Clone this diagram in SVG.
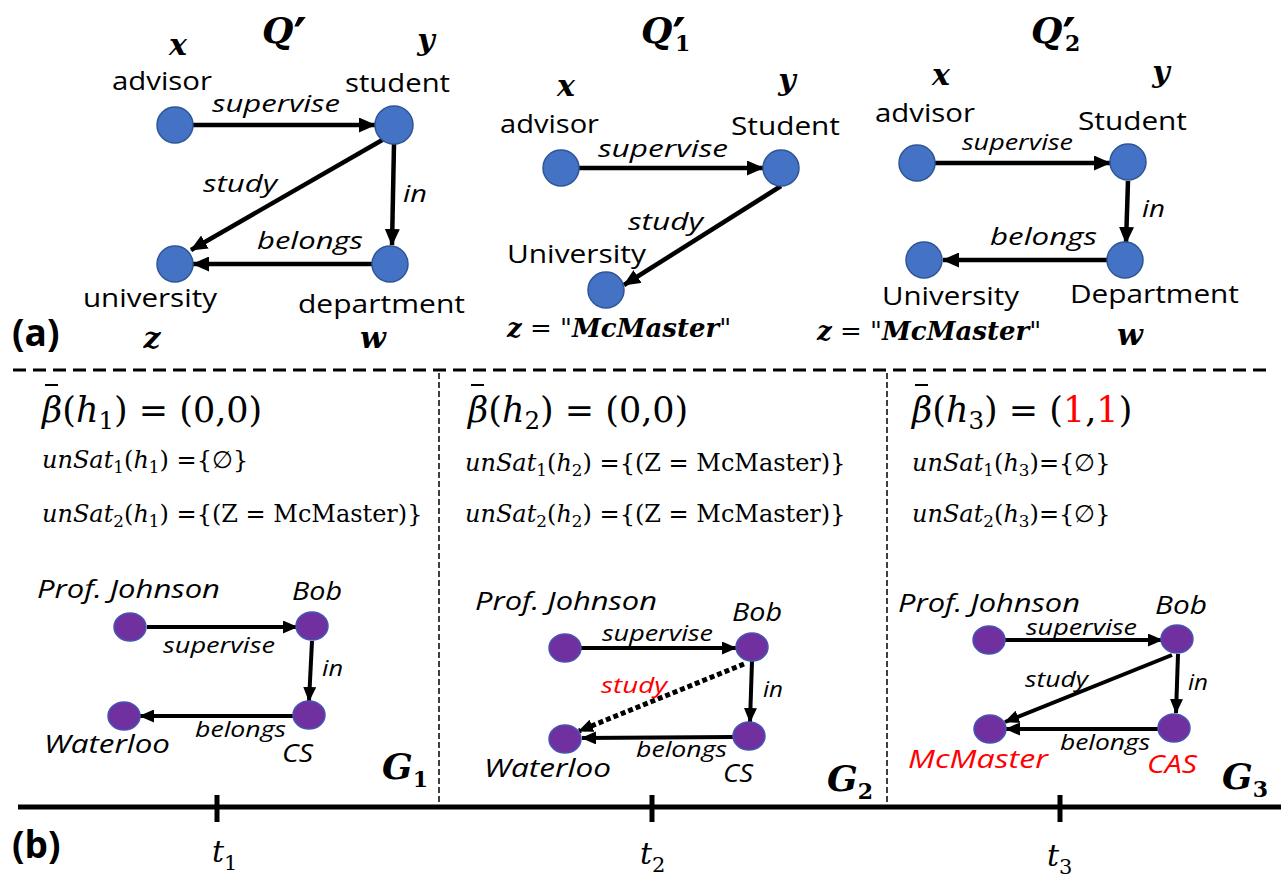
<svg xmlns="http://www.w3.org/2000/svg" width="1286" height="886" viewBox="0 0 1286 886">
<defs>
<marker id="ah" markerUnits="userSpaceOnUse" markerWidth="17" markerHeight="15" refX="16" refY="7.5" orient="auto">
<path d="M0,0 L17,7.5 L0,15 z" fill="#000"/>
</marker>
<marker id="ahs" markerUnits="userSpaceOnUse" markerWidth="15" markerHeight="13" refX="14" refY="6.5" orient="auto">
<path d="M0,0 L15,6.5 L0,13 z" fill="#000"/>
</marker>
</defs>
<style>
.bg{fill:#fff}
.na{fill:#4472C4;stroke:#2F5597;stroke-width:1.5}
.nb{fill:#7030A0;stroke:#4655B0;stroke-width:1.5}
.ea{stroke:#000;stroke-width:4.5;fill:none;marker-end:url(#ah)}
.eb{stroke:#000;stroke-width:4;fill:none;marker-end:url(#ahs)}
.dot{stroke:#000;stroke-width:5;fill:none;stroke-dasharray:5 3;marker-end:url(#ahs)}
.lbl{font-family:"Open Sans","DejaVu Sans",sans-serif;font-size:26px;fill:#000}
.el{font-family:"Open Sans","DejaVu Sans",sans-serif;font-size:24px;font-style:italic;fill:#000}
.es{font-family:"Open Sans","DejaVu Sans",sans-serif;font-size:22px;font-style:italic;fill:#000}
.gl{font-family:"Open Sans","DejaVu Sans",sans-serif;font-size:26px;font-style:italic;fill:#000}
.red{fill:#FF0000}
.var{font-family:"DejaVu Serif","Liberation Serif",serif;font-weight:bold;font-style:italic;font-size:30px;fill:#000}
.qt{font-family:"DejaVu Serif","Liberation Serif",serif;font-weight:bold;font-style:italic;font-size:36px;fill:#000}
.pr{font-family:"DejaVu Sans","Liberation Sans",sans-serif;font-style:normal;font-weight:bold;font-size:52px}
.qs{font-family:"DejaVu Serif","Liberation Serif",serif;font-style:normal;font-weight:bold;font-size:22px}
.zeq{font-family:"DejaVu Serif","Liberation Serif",serif;font-size:26px;fill:#000}
.bi{font-weight:bold;font-style:italic}
.beta{font-family:"DejaVu Serif","Liberation Serif",serif;font-size:35px;fill:#000}
.bar{stroke:#000;stroke-width:2;fill:none}
.uns{font-family:"DejaVu Serif","Liberation Serif",serif;font-size:24px;fill:#000}
.it{font-style:italic}
.sub{font-size:70%}
.pl{font-family:"Open Sans","DejaVu Sans",sans-serif;font-weight:bold;font-size:37px;fill:#000}
.tl{font-family:"DejaVu Serif","Liberation Serif",serif;font-size:30px;fill:#000}
.sep{stroke:#000;stroke-width:3;stroke-dasharray:13 7;fill:none}
.vd{stroke:#000;stroke-width:1.5;stroke-dasharray:6 3;fill:none}
.axis{stroke:#000;stroke-width:5;fill:none}
</style>
<rect class="bg" x="0" y="0" width="1286" height="886"/>

<!-- separators and timeline -->
<g id="frame">
<path class="sep" d="M13,370 L1272,370"/>
<path class="vd" d="M439,373 L439,805"/>
<path class="vd" d="M887,373 L887,805"/>
<path class="axis" d="M18,807 L1281,807"/>
<path class="axis" d="M217,795 L217,822 M652,795 L652,822 M1060,795 L1060,822"/>
<text class="pl" x="12" y="346">(a)</text>
<text class="pl" x="12" y="858">(b)</text>
<text class="tl" x="212" y="862"><tspan class="it">t</tspan><tspan class="sub" dy="8">1</tspan></text>
<text class="tl" x="640" y="864"><tspan class="it">t</tspan><tspan class="sub" dy="8">2</tspan></text>
<text class="tl" x="1047" y="866"><tspan class="it">t</tspan><tspan class="sub" dy="8">3</tspan></text>
</g>

<!-- connectors -->
<g id="connectors">
<path class="ea" d="M193,125 L375,125"/>
<path class="ea" d="M384,139 L191,250"/>
<path class="ea" d="M394,144 L392,245"/>
<path class="ea" d="M372,264 L193,264"/>

<path class="ea" d="M579,168 L763,168"/>
<path class="ea" d="M781,186 L624,285"/>

<path class="ea" d="M935,163 L1110,163"/>
<path class="ea" d="M1128,181 L1126,243"/>
<path class="ea" d="M1107,260 L943,260"/>

<path class="eb" d="M147,627 L297,627"/>
<path class="eb" d="M312,641 L309,701"/>
<path class="eb" d="M293,716 L140,716"/>

<path class="eb" d="M581,648 L736,648"/>
<path class="eb" d="M752,661 L750,722"/>
<path class="eb" d="M733,737 L582,738"/>
<path class="dot" d="M744,664 L579,731"/>

<path class="eb" d="M1005,640 L1162,640"/>
<path class="eb" d="M1172,655 L1005,722"/>
<path class="eb" d="M1178,654 L1176,713"/>
<path class="eb" d="M1158,729 L1006,729"/>
</g>

<!-- Q' -->
<g id="q-title">
<text class="qt" x="262" y="43">Q<tspan class="pr" dy="12">′</tspan></text>
</g>
<g id="q-x"><circle class="na" cx="175" cy="125" r="18"/><text class="var" x="178" y="55" text-anchor="middle">x</text><text class="lbl" x="112" y="90" textLength="100" lengthAdjust="spacingAndGlyphs">advisor</text></g>
<g id="q-y"><circle class="na" cx="394" cy="125" r="19"/><text class="var" x="426" y="50" text-anchor="middle">y</text><text class="lbl" x="345" y="92" textLength="105" lengthAdjust="spacingAndGlyphs">student</text></g>
<g id="q-z"><circle class="na" cx="175" cy="264" r="18"/><text class="lbl" x="83" y="307" textLength="134" lengthAdjust="spacingAndGlyphs">university</text><text class="var" x="152" y="348" text-anchor="middle">z</text></g>
<g id="q-w"><circle class="na" cx="390" cy="264" r="18"/><text class="lbl" x="298" y="313" textLength="167" lengthAdjust="spacingAndGlyphs">department</text><text class="var" x="373" y="348" text-anchor="middle">w</text></g>
<g id="q-labels">
<text class="el" x="212" y="112" textLength="128" lengthAdjust="spacingAndGlyphs">supervise</text>
<text class="el" x="203" y="192" textLength="74" lengthAdjust="spacingAndGlyphs">study</text>
<text class="el" x="403" y="202" textLength="24" lengthAdjust="spacingAndGlyphs">in</text>
<text class="el" x="257" y="249" textLength="106" lengthAdjust="spacingAndGlyphs">belongs</text>
</g>

<!-- Q'1 -->
<g id="q1-title">
<text class="qt" x="641" y="43">Q<tspan class="pr" dy="12">′</tspan><tspan class="qs" x="675" y="51">1</tspan></text>
</g>
<g id="q1-x"><circle class="na" cx="561" cy="168" r="18"/><text class="var" x="566" y="96" text-anchor="middle">x</text><text class="lbl" x="500" y="133" textLength="99" lengthAdjust="spacingAndGlyphs">advisor</text></g>
<g id="q1-y"><circle class="na" cx="781" cy="168" r="18"/><text class="var" x="787" y="90" text-anchor="middle">y</text><text class="lbl" x="731" y="135" textLength="109" lengthAdjust="spacingAndGlyphs">Student</text></g>
<g id="q1-z"><circle class="na" cx="606" cy="290" r="18"/><text class="lbl" x="507" y="263" textLength="139" lengthAdjust="spacingAndGlyphs">University</text>
<text class="zeq" x="507" y="337"><tspan class="bi">z</tspan> = "<tspan class="bi">McMaster</tspan>"</text></g>
<g id="q1-labels">
<text class="el" x="598" y="157" textLength="130" lengthAdjust="spacingAndGlyphs">supervise</text>
<text class="el" x="628" y="230" textLength="75" lengthAdjust="spacingAndGlyphs">study</text>
</g>

<!-- Q'2 -->
<g id="q2-title">
<text class="qt" x="1031" y="43">Q<tspan class="pr" dy="12">′</tspan><tspan class="qs" x="1065" y="51">2</tspan></text>
</g>
<g id="q2-x"><circle class="na" cx="917" cy="163" r="18"/><text class="var" x="941" y="85" text-anchor="middle">x</text><text class="lbl" x="875" y="122" textLength="100" lengthAdjust="spacingAndGlyphs">advisor</text></g>
<g id="q2-y"><circle class="na" cx="1128" cy="162" r="18"/><text class="var" x="1161" y="82" text-anchor="middle">y</text><text class="lbl" x="1078" y="130" textLength="109" lengthAdjust="spacingAndGlyphs">Student</text></g>
<g id="q2-w"><circle class="na" cx="1125" cy="260" r="18"/><text class="lbl" x="1070" y="303" textLength="169" lengthAdjust="spacingAndGlyphs">Department</text><text class="var" x="1130" y="345" text-anchor="middle">w</text></g>
<g id="q2-z"><circle class="na" cx="924" cy="260" r="18"/><text class="lbl" x="882" y="305" textLength="137" lengthAdjust="spacingAndGlyphs">University</text>
<text class="zeq" x="817" y="340"><tspan class="bi">z</tspan> = "<tspan class="bi">McMaster</tspan>"</text></g>
<g id="q2-labels">
<text class="es" x="962" y="150" textLength="111" lengthAdjust="spacingAndGlyphs">supervise</text>
<text class="el" x="1142" y="217" textLength="23" lengthAdjust="spacingAndGlyphs">in</text>
<text class="el" x="990" y="245" textLength="107" lengthAdjust="spacingAndGlyphs">belongs</text>
</g>

<!-- column texts -->
<g id="h1-text">
<path class="bar" d="M45,385 L58,385"/>
<text class="beta" x="42" y="422"><tspan class="it">β</tspan>(<tspan class="it">h</tspan><tspan class="sub" dy="7">1</tspan><tspan dy="-7">) = (0,0)</tspan></text>
<text class="uns" x="42" y="468"><tspan class="it">unSat</tspan><tspan class="sub" dy="5">1</tspan><tspan dy="-5">(</tspan><tspan class="it">h</tspan><tspan class="sub" dy="5">1</tspan><tspan dy="-5">) ={∅}</tspan></text>
<text class="uns" x="42" y="522"><tspan class="it">unSat</tspan><tspan class="sub" dy="5">2</tspan><tspan dy="-5">(</tspan><tspan class="it">h</tspan><tspan class="sub" dy="5">1</tspan><tspan dy="-5">) ={(Z = McMaster)}</tspan></text>
</g>
<g id="h2-text">
<path class="bar" d="M471,385 L484,385"/>
<text class="beta" x="468" y="422"><tspan class="it">β</tspan>(<tspan class="it">h</tspan><tspan class="sub" dy="7">2</tspan><tspan dy="-7">) = (0,0)</tspan></text>
<text class="uns" x="465" y="471"><tspan class="it">unSat</tspan><tspan class="sub" dy="5">1</tspan><tspan dy="-5">(</tspan><tspan class="it">h</tspan><tspan class="sub" dy="5">2</tspan><tspan dy="-5">) ={(Z = McMaster)}</tspan></text>
<text class="uns" x="465" y="522"><tspan class="it">unSat</tspan><tspan class="sub" dy="5">2</tspan><tspan dy="-5">(</tspan><tspan class="it">h</tspan><tspan class="sub" dy="5">2</tspan><tspan dy="-5">) ={(Z = McMaster)}</tspan></text>
</g>
<g id="h3-text">
<path class="bar" d="M915,385 L928,385"/>
<text class="beta" x="912" y="422"><tspan class="it">β</tspan>(<tspan class="it">h</tspan><tspan class="sub" dy="7">3</tspan><tspan dy="-7">) =  (</tspan><tspan class="red">1</tspan>,<tspan class="red">1</tspan>)</text>
<text class="uns" x="912" y="471"><tspan class="it">unSat</tspan><tspan class="sub" dy="5">1</tspan><tspan dy="-5">(</tspan><tspan class="it">h</tspan><tspan class="sub" dy="5">3</tspan><tspan dy="-5">)={∅}</tspan></text>
<text class="uns" x="912" y="522"><tspan class="it">unSat</tspan><tspan class="sub" dy="5">2</tspan><tspan dy="-5">(</tspan><tspan class="it">h</tspan><tspan class="sub" dy="5">3</tspan><tspan dy="-5">)={∅}</tspan></text>
</g>

<!-- G1 -->
<g id="g1-prof"><ellipse class="nb" cx="130" cy="627" rx="16" ry="14"/><text class="gl" x="37" y="598" textLength="183" lengthAdjust="spacingAndGlyphs">Prof. Johnson</text></g>
<g id="g1-bob"><ellipse class="nb" cx="312" cy="626" rx="16" ry="14"/><text class="gl" x="292" y="600" textLength="50" lengthAdjust="spacingAndGlyphs">Bob</text></g>
<g id="g1-cs"><ellipse class="nb" cx="309" cy="715" rx="16" ry="14"/><text class="gl" x="282" y="762" textLength="31" lengthAdjust="spacingAndGlyphs">CS</text></g>
<g id="g1-waterloo"><ellipse class="nb" cx="124" cy="716" rx="16" ry="14"/><text class="gl" x="44" y="753" textLength="126" lengthAdjust="spacingAndGlyphs">Waterloo</text></g>
<g id="g1-labels">
<text class="es" x="163" y="653" textLength="112" lengthAdjust="spacingAndGlyphs">supervise</text>
<text class="es" x="322" y="676" textLength="21" lengthAdjust="spacingAndGlyphs">in</text>
<text class="es" x="195" y="737" textLength="91" lengthAdjust="spacingAndGlyphs">belongs</text>
<text class="qt" x="382" y="779">G<tspan class="qs" dy="8">1</tspan></text>
</g>

<!-- G2 -->
<g id="g2-prof"><ellipse class="nb" cx="565" cy="648" rx="16" ry="14"/><text class="gl" x="475" y="610" textLength="182" lengthAdjust="spacingAndGlyphs">Prof. Johnson</text></g>
<g id="g2-bob"><ellipse class="nb" cx="752" cy="647" rx="16" ry="14"/><text class="gl" x="732" y="621" textLength="50" lengthAdjust="spacingAndGlyphs">Bob</text></g>
<g id="g2-cs"><ellipse class="nb" cx="749" cy="736" rx="16" ry="14"/><text class="gl" x="723" y="782" textLength="30" lengthAdjust="spacingAndGlyphs">CS</text></g>
<g id="g2-waterloo"><ellipse class="nb" cx="565" cy="739" rx="16" ry="14"/><text class="gl" x="484" y="777" textLength="127" lengthAdjust="spacingAndGlyphs">Waterloo</text></g>
<g id="g2-labels">
<text class="es" x="602" y="641" textLength="111" lengthAdjust="spacingAndGlyphs">supervise</text>
<text class="es" x="763" y="697" textLength="20" lengthAdjust="spacingAndGlyphs">in</text>
<text class="es red" x="601" y="693" textLength="66" lengthAdjust="spacingAndGlyphs">study</text>
<text class="es" x="636" y="757" textLength="91" lengthAdjust="spacingAndGlyphs">belongs</text>
<text class="qt" x="827" y="791">G<tspan class="qs" dy="8">2</tspan></text>
</g>

<!-- G3 -->
<g id="g3-prof"><ellipse class="nb" cx="989" cy="640" rx="16" ry="14"/><text class="gl" x="898" y="612" textLength="182" lengthAdjust="spacingAndGlyphs">Prof. Johnson</text></g>
<g id="g3-bob"><ellipse class="nb" cx="1177" cy="639" rx="16" ry="14"/><text class="gl" x="1155" y="614" textLength="52" lengthAdjust="spacingAndGlyphs">Bob</text></g>
<g id="g3-cas"><ellipse class="nb" cx="1174" cy="728" rx="16" ry="14"/><text class="gl red" x="1147" y="773" textLength="50" lengthAdjust="spacingAndGlyphs">CAS</text></g>
<g id="g3-mcmaster"><ellipse class="nb" cx="990" cy="729" rx="16" ry="14"/><text class="gl red" x="908" y="768" textLength="140" lengthAdjust="spacingAndGlyphs">McMaster</text></g>
<g id="g3-labels">
<text class="es" x="1026" y="635" textLength="111" lengthAdjust="spacingAndGlyphs">supervise</text>
<text class="es" x="1025" y="687" textLength="63" lengthAdjust="spacingAndGlyphs">study</text>
<text class="es" x="1188" y="690" textLength="20" lengthAdjust="spacingAndGlyphs">in</text>
<text class="es" x="1060" y="750" textLength="90" lengthAdjust="spacingAndGlyphs">belongs</text>
<text class="qt" x="1222" y="789">G<tspan class="qs" dy="8">3</tspan></text>
</g>
</svg>
